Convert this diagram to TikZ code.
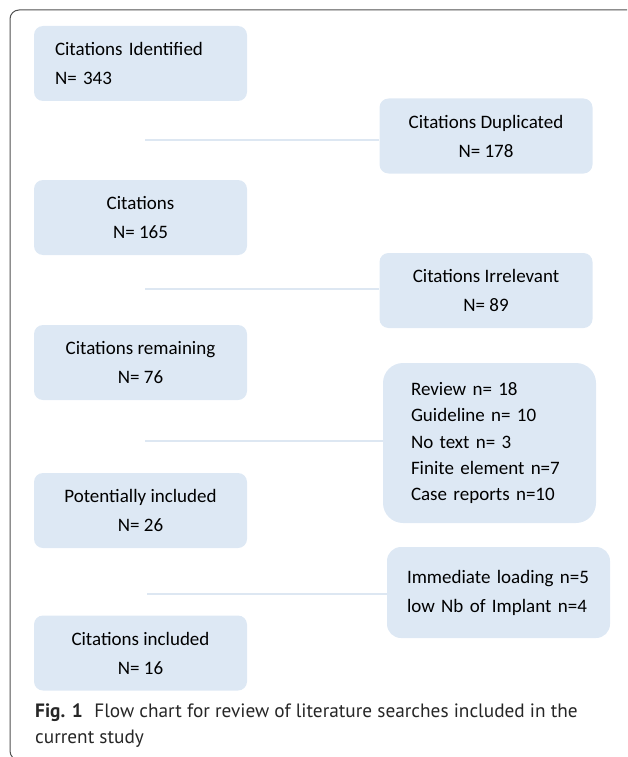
\documentclass[tikz,border=0pt]{standalone}
\usepackage{fontspec}
\setmainfont{Carlito}
\newfontfamily\capfont{PT Sans}
\definecolor{boxblue}{HTML}{DDE8F4}
\definecolor{linkblue}{HTML}{DDE7F2}
\definecolor{framegray}{HTML}{505050}

\begin{document}
\begin{tikzpicture}[x=1pt,y=-1pt,
  box/.style={rounded corners=9pt,fill=boxblue,minimum width=213pt,minimum height=75pt,
    align=center,text=black,font=\fontsize{19}{29}\selectfont},
  link/.style={draw=linkblue,line width=1.6pt}]
  \clip (0,0) rectangle (627,757);
  \draw[framegray,line width=1pt,rounded corners=9pt] (700,760) -- (10,760) -- (10,10) -- (700,10);
  % main column
  \node[box,align=left,text width=171pt,inner xsep=21pt] (ident) at (140.5,63.5) {Citations Identified\\N= 343};
  \node[box] (cit) at (140.5,217.5) {Citations\\N= 165};
  \node[box] (rem) at (140.5,362.5) {Citations remaining\\N= 76};
  \node[box] (pot) at (140.5,510.5) {Potentially included\\N= 26};
  \node[box] (inc) at (140.5,653) {Citations included\\N= 16};
  % excluded records
  \node[box] (dup) at (486,136) {Citations Duplicated\\N= 178};
  \node[box] (irr) at (486,290.5) {Citations Irrelevant\\N= 89};
  \node[box,rounded corners=20pt,align=left,text width=157pt,inner xsep=24pt,minimum height=160pt,
    font=\fontsize{19}{26.3}\selectfont] (excl) at (489.5,443)
    {Review n= 18\\Guideline n= 10\\No text n= 3\\Finite element n=7\\Case reports n=10};
  \node[box,rounded corners=14pt,align=left,text width=183pt,inner xsep=20pt,minimum height=91pt]
    (other) at (498.5,592.5) {Immediate loading n=5\\low Nb of Implant n=4};
  % side links
  \coordinate (j1) at (145,140);
  \coordinate (j2) at (145,289);
  \coordinate (j3) at (145,441);
  \coordinate (j4) at (147,594);
  \draw[link] (j1) -- (dup.west |- j1);
  \draw[link] (j2) -- (irr.west |- j2);
  \draw[link] (j3) -- (excl.west |- j3);
  \draw[link] (j4) -- (other.west |- j4);
  \node[anchor=north west,inner sep=0pt,align=left,text=black!85,
    font=\capfont\fontsize{19.3}{26}\selectfont] (cap) at (35,704)
    {\textbf{Fig. 1}\hspace{0.6em}Flow chart for review of literature searches included in the\\current study};
\end{tikzpicture}
\end{document}
